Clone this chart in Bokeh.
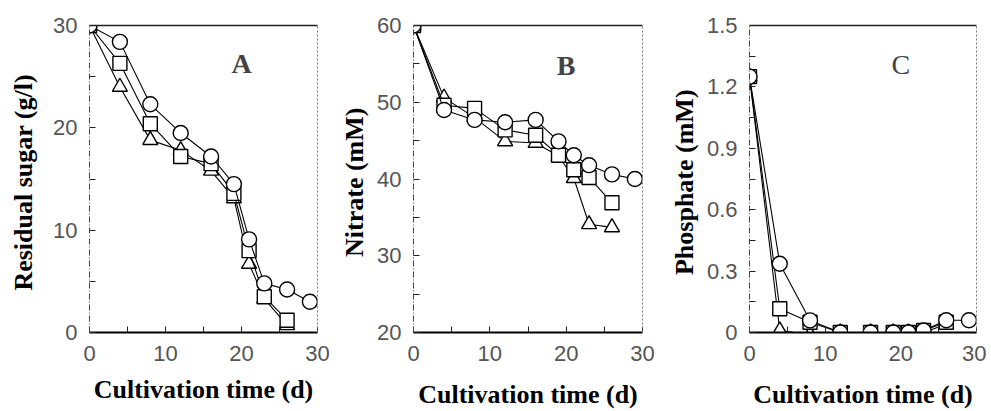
from bokeh.plotting import figure
from bokeh.layouts import row
from bokeh.models import FixedTicker, LinearAxis, Label, Range1d
from bokeh.embed import file_html
from bokeh.resources import INLINE

# ---- data ----
days_circle = [0, 4, 8, 12, 16, 19, 21, 23, 26, 29]
days_square = [0, 4, 8, 12, 16, 19, 21, 23, 26]
days_tri = [0, 4, 8, 12, 16, 19, 21, 23, 26]

sugar_circle = [30, 28.4, 22.3, 19.5, 17.2, 14.5, 9.1, 4.8, 4.2, 3.0]
sugar_square = [30, 26.3, 20.4, 17.2, 16.5, 13.6, 8.0, 3.5, 1.2]
sugar_tri = [30, 24.0, 18.8, 17.8, 15.8, 13.1, 6.7, 3.3, 0.7]

nitrate_circle = [60, 49.0, 47.7, 47.4, 47.7, 44.9, 43.1, 41.8, 40.6, 40.0]
nitrate_square = [60, 49.6, 49.2, 46.4, 45.7, 43.1, 41.2, 40.2, 36.9]
nitrate_tri = [60, 50.6, 48.0, 44.9, 44.7, 43.0, 40.1, 34.1, 33.7]

phos_circle = [1.25, 0.336, 0.059, 0.0, 0.0, 0.0, 0.0, 0.01, 0.06, 0.06]
phos_square = [1.25, 0.116, 0.05, 0.0, 0.0, 0.0, 0.0, 0.01, 0.05]
phos_tri = [1.25, 0.01, -0.01, 0.0, 0.0, 0.0, 0.0, 0.0, 0.04]

x_ticks = [0, 10, 20, 30]
x_minor = [5, 15, 25]

SERIF = "Liberation Serif"
SANS = "Liberation Sans"


def make_panel(width, left, right, top, yr, yticks, yminor, ylabels, ylabel,
               circ, sq, tri, letter, letter_y, letter_bold, xlab_standoff,
               ylab_standoff):
    p = figure(width=width, height=411, output_backend="svg", toolbar_location=None,
               x_range=Range1d(0, 30), y_range=Range1d(*yr),
               min_border_left=left, min_border_right=right,
               min_border_top=top, min_border_bottom=79,
               x_axis_label="Cultivation time (d)", y_axis_label=ylabel)
    p.grid.visible = False
    p.outline_line_color = None
    p.background_fill_color = "white"

    for ax, ticks, minor, labels in ((p.xaxis[0], x_ticks, x_minor, None),
                                     (p.yaxis[0], yticks, yminor, ylabels)):
        ax.ticker = FixedTicker(ticks=ticks, minor_ticks=minor)
        ax.major_tick_in = 6
        ax.major_tick_out = 0
        ax.minor_tick_in = 6
        ax.minor_tick_out = 0
        ax.major_tick_line_color = "#222222"
        ax.minor_tick_line_color = "#222222"
        ax.major_label_text_font = SANS
        ax.major_label_text_font_size = "22px"
        ax.major_label_text_color = "#555555"
        ax.axis_label_text_font = SERIF
        ax.axis_label_text_font_style = "bold"
        ax.axis_label_text_font_size = "26px"
        ax.axis_label_text_color = "black"
        if labels is not None:
            ax.major_label_overrides = {t: l for t, l in zip(ticks, labels)}
        else:
            ax.major_label_overrides = {t: str(t) for t in ticks}

    p.xaxis.axis_line_color = "black"
    p.xaxis.axis_line_width = 2
    p.xaxis.major_label_standoff = 13
    p.xaxis.axis_label_standoff = xlab_standoff
    p.yaxis.axis_line_color = "#444444"
    p.yaxis.axis_line_dash = "6 2 1 2"
    p.yaxis.major_label_standoff = 12
    p.yaxis.axis_label_standoff = ylab_standoff

    top_ax = LinearAxis(major_tick_line_color=None, minor_tick_line_color=None,
                        major_label_text_font_size="0px", axis_line_color="#222222",
                        axis_line_width=1.5)
    right_ax = LinearAxis(major_tick_line_color=None, minor_tick_line_color=None,
                          major_label_text_font_size="0px", axis_line_color="#777777",
                          axis_line_dash="2 2")
    p.add_layout(top_ax, "above")
    p.add_layout(right_ax, "right")

    for xs, ys, marker, size in ((days_tri, tri, "triangle", 15),
                                 (days_square, sq, "square", 14),
                                 (days_circle, circ, "circle", 15)):
        p.line(xs, ys, line_color="black", line_width=1.1)
        p.scatter(xs, ys, marker=marker, size=size, fill_color="white",
                  line_color="black", line_width=1.4)

    p.add_layout(Label(x=20, y=letter_y, text=letter, text_font=SERIF,
                       text_font_size="28px",
                       text_font_style="bold" if letter_bold else "normal",
                       text_align="center", text_baseline="middle"))
    return p


pA = make_panel(337, 89, 20, 25, (0, 30), [0, 10, 20, 30], [5, 15, 25],
                ["0", "10", "20", "30"], "Residual sugar  (g/l)",
                sugar_circle, sugar_square, sugar_tri, "A", 26.3, True, 11, 12)
pB = make_panel(325, 76, 20, 25, (20, 60), [20, 30, 40, 50, 60], [25, 35, 45, 55],
                ["20", "30", "40", "50", "60"], "Nitrate  (mM)",
                nitrate_circle, nitrate_square, nitrate_tri, "B", 54.8, True, 16, 5)
pC = make_panel(324, 87, 10, 25, (0, 1.5), [0, 0.3, 0.6, 0.9, 1.2, 1.5],
                [0.15, 0.45, 0.75, 1.05, 1.35],
                ["0", "0.3", "0.6", "0.9", "1.2", "1.5"], "Phosphate  (mM)",
                phos_circle, phos_square, phos_tri, "C", 1.31, False, 16, 5)

layout = row(pA, pB, pC)
open("out.html", "w").write(file_html(layout, INLINE))
